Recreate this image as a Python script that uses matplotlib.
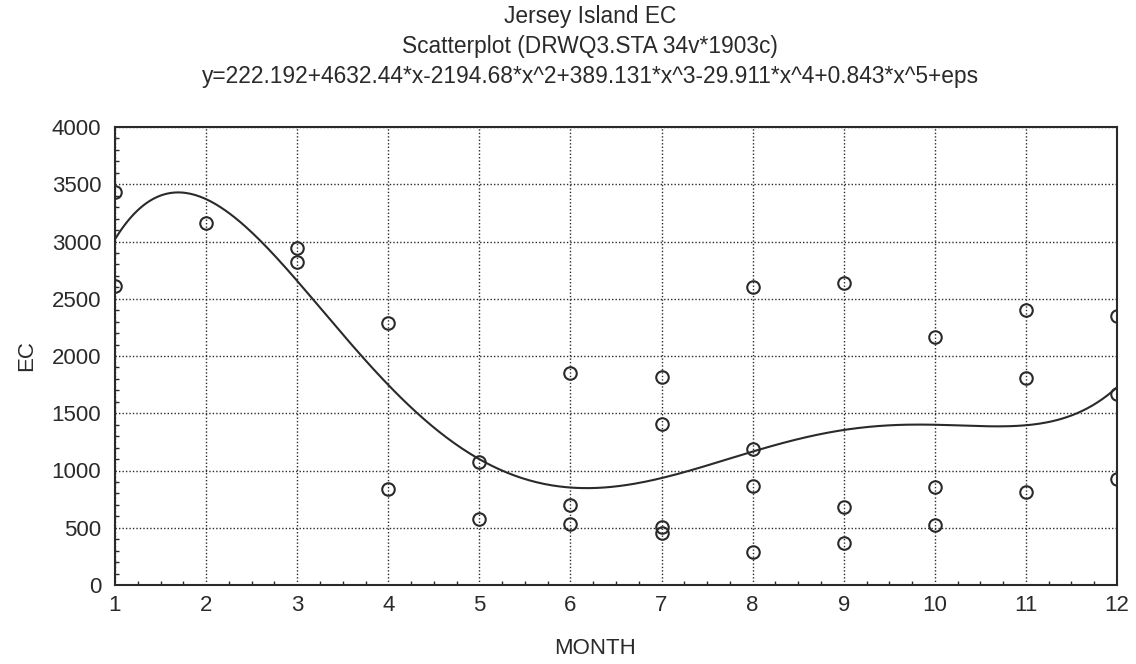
import numpy as np
import matplotlib
matplotlib.use("Agg")
import matplotlib.pyplot as plt
from matplotlib.ticker import MultipleLocator

plt.rcParams['font.family'] = ['Liberation Sans', 'DejaVu Sans']

# Observations (month, EC)
month = [1, 1, 2, 3, 3, 4, 4, 5, 5,
         6, 6, 6, 7, 7, 7, 7, 8, 8, 8, 8,
         9, 9, 9, 10, 10, 10, 11, 11, 11, 12, 12, 12]
ec = [3430, 2614, 3159, 2941, 2824, 2286, 836, 1074, 574,
      1854, 699, 530, 1817, 1406, 504, 451, 2600, 1185, 865, 288,
      2640, 679, 369, 2163, 859, 524, 2402, 1805, 812, 2349, 1668, 923]

# Fitted polynomial coefficients (from title), order x^0..x^5
coef = [222.192, 4632.44, -2194.68, 389.131, -29.911, 0.843]

title_lines = ["Jersey Island EC",
               "Scatterplot (DRWQ3.STA 34v*1903c)",
               "y=222.192+4632.44*x-2194.68*x^2+389.131*x^3-29.911*x^4+0.843*x^5+eps"]

ink = '#2a2a2a'
fs = 16
tfs = 16.4

fig = plt.figure(figsize=(11.36, 6.64), dpi=100)
ax = fig.add_axes([115/1136, 1 - 585/664, 1002/1136, 458/664])

xs = np.linspace(1, 12, 400)
ys = np.polynomial.polynomial.polyval(xs, coef)
ax.plot(xs, ys, color=ink, lw=1.5)
ax.plot(month, ec, linestyle='none', marker='o', markersize=9,
        markerfacecolor='none', markeredgecolor=ink, markeredgewidth=1.5)

ax.set_xlim(1, 12)
ax.set_ylim(0, 4000)
ax.xaxis.set_major_locator(MultipleLocator(1))
ax.yaxis.set_major_locator(MultipleLocator(500))
ax.xaxis.set_minor_locator(MultipleLocator(0.25))
ax.yaxis.set_minor_locator(MultipleLocator(100))
ax.tick_params(which='both', direction='in', colors=ink, labelsize=fs,
               top=False, right=False)
ax.tick_params(which='major', length=0)
ax.tick_params(axis='y', which='major', pad=10)
ax.tick_params(axis='x', which='major', pad=7)
ax.tick_params(which='minor', length=3, width=1)
ax.grid(True, which='major', linestyle=(0, (1, 1.5)), color=ink, lw=1)
for s in ax.spines.values():
    s.set_color(ink)
    s.set_linewidth(1.5)

ax.set_xlabel("MONTH", fontsize=fs, color=ink)
ax.xaxis.set_label_coords((595 - 115) / 1002, (585 - 648) / 458)
ax.xaxis.label.set_va('center')
ax.set_ylabel("EC", fontsize=fs, color=ink)
ax.yaxis.set_label_coords((27 - 115) / 1002, (585 - 356) / 458)
ax.yaxis.label.set_va('center')

cx = 590 / 1136
fig.text(cx, 1 - 17/664, title_lines[0], ha='center', va='center', fontsize=tfs, color=ink)
fig.text(cx, 1 - 46/664, title_lines[1], ha='center', va='center', fontsize=tfs, color=ink)
fig.text(cx, 1 - 77/664, title_lines[2], ha='center', va='center', fontsize=tfs, color=ink)

fig.savefig("out.png", dpi=100, facecolor='white')
